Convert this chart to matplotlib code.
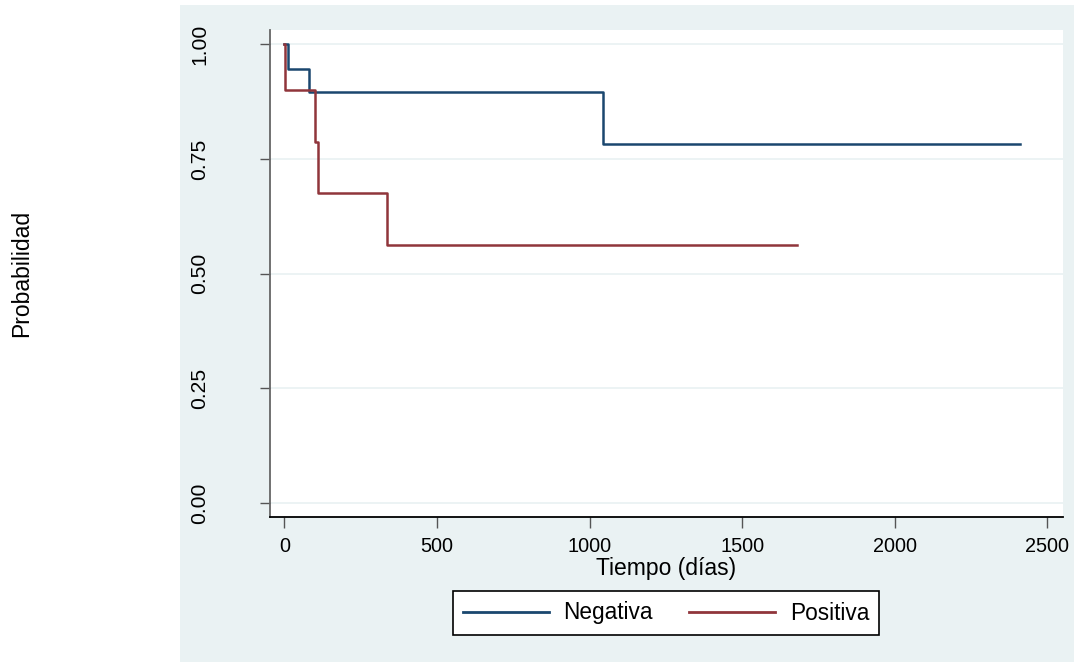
import matplotlib.pyplot as plt
from matplotlib.patches import Rectangle

plt.rcParams['font.family'] = ['Liberation Sans', 'DejaVu Sans']

# Kaplan-Meier step values (time in days, survival probability)
neg_time = [0, 13, 82, 1045, 2410]
neg_surv = [1.0, 0.947, 0.895, 0.783, 0.783]

pos_time = [0, 3, 101, 110, 337, 1680]
pos_surv = [1.0, 0.9, 0.7875, 0.675, 0.5625, 0.5625]

y_ticks = [0.0, 0.25, 0.5, 0.75, 1.0]
y_labels = ['0.00', '0.25', '0.50', '0.75', '1.00']
x_ticks = [0, 500, 1000, 1500, 2000, 2500]

NAVY = '#1a476f'
MAROON = '#90353b'
PANEL = '#eaf2f3'

W, H = 1074, 662
fig = plt.figure(figsize=(W / 100, H / 100), dpi=100)
fig.patch.set_facecolor('white')

# grey graph region behind the plot
fig.patches.append(Rectangle((180 / W, 0), 1 - 180 / W, 1 - 5 / H,
                             transform=fig.transFigure, facecolor=PANEL,
                             edgecolor='none', zorder=-5))

ax = fig.add_axes([270 / W, 1 - 517.3 / H, (1062.7 - 270) / W, (517.3 - 30) / H])
ax.set_zorder(2)
ax.set_facecolor('white')

for yt in y_ticks:
    ax.axhline(yt, color=PANEL, lw=1.3, zorder=1)

ax.step(neg_time, neg_surv, where='post', color=NAVY, lw=1.8, label='Negativa', zorder=3)
ax.step(pos_time, pos_surv, where='post', color=MAROON, lw=1.8, label='Positiva', zorder=3)

ax.set_xlim(-47, 2550)
ax.set_ylim(-0.031, 1.031)

ax.set_yticks(y_ticks)
ax.set_yticklabels(y_labels, rotation=90, va='center', fontsize=15.2)
ax.set_xticks(x_ticks)
ax.set_xticklabels([str(v) for v in x_ticks], fontsize=14.3)

ax.tick_params(axis='y', length=7, width=1, color='#555555', pad=37)
ax.tick_params(axis='x', length=8, width=1, color='#555555', pad=6)

for side in ['top', 'right']:
    ax.spines[side].set_visible(False)
ax.spines['left'].set_color('#666666')
ax.spines['left'].set_linewidth(1.3)
ax.spines['bottom'].set_color('black')
ax.spines['bottom'].set_linewidth(1.3)

ax.set_xlabel('Tiempo (días)', fontsize=16.5, labelpad=1)
fig.text(22 / W, 1 - 273.5 / H, 'Probabilidad', rotation=90, fontsize=16.5,
         ha='center', va='center')

leg = fig.legend(loc='center', bbox_to_anchor=(666 / W, 1 - 613 / H), ncol=2,
                 fontsize=16.3, frameon=True, fancybox=False, framealpha=1,
                 handlelength=3.8, handletextpad=0.65, columnspacing=1.6,
                 borderpad=0.45)
leg.get_frame().set_edgecolor('black')
leg.get_frame().set_linewidth(1.2)
leg.get_frame().set_facecolor('white')
for line in leg.get_lines():
    line.set_linewidth(2.0)

fig.savefig('out.png', dpi=100, facecolor='white')
